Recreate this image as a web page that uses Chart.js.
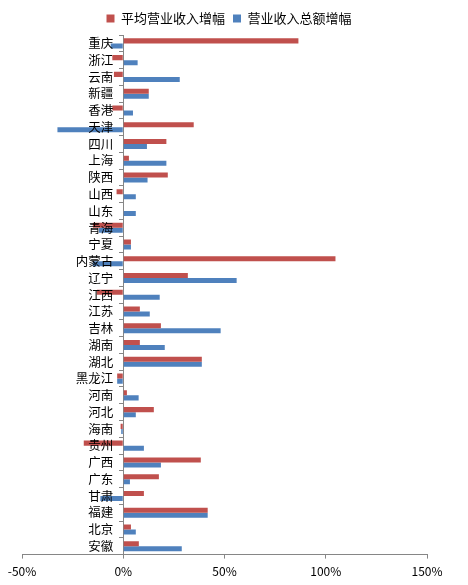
<!DOCTYPE html>
<html>
<head>
<meta charset="utf-8">
<script src="https://cdn.jsdelivr.net/npm/chart.js@4.4.0/dist/chart.umd.min.js"></script>
<style>
  html, body { margin: 0; padding: 0; background: #fff; }
</style>
</head>
<body>
<canvas id="chart" width="468" height="585"></canvas>
<script>
// provinces, top to bottom as in the picture
const categories = ['重庆', '浙江', '云南', '新疆', '香港', '天津', '四川', '上海', '陕西', '山西',
  '山东', '青海', '宁夏', '内蒙古', '辽宁', '江西', '江苏', '吉林', '湖南', '湖北',
  '黑龙江', '河南', '河北', '海南', '贵州', '广西', '广东', '甘肃', '福建', '北京', '安徽']

// 平均营业收入增幅 (%)
const avgGrowth = [86.5, -5.4, -4.6, 12.6, -5.4, 34.8, 21.3, 2.8, 22.0, -3.3,
  0, -15, 3.8, 104.8, 31.9, -13, 8.2, 18.6, 8.2, 38.8,
  -3, 1.8, 15.1, -1.3, -19.5, 38.3, 17.6, 10.2, 41.7, 3.8, 7.7]

// 营业收入总额增幅 (%)
const totalGrowth = [-6.2, 7.1, 27.9, 12.6, 4.8, -32.5, 11.7, 21.3, 12.0, 6.2,
  6.2, -12, 3.8, -15, 56.0, 18.0, 13.1, 48.1, 20.5, 38.8,
  -3, 7.6, 6.2, -1.0, 10.2, 18.6, 3.3, -11.3, 41.7, 6.2, 28.9]

const seriesNames = ['平均营业收入增幅', '营业收入总额增幅']
const xMin = -50
const xMax = 150
const xStep = 50

const font = '"Noto Sans CJK SC", "Noto Sans", sans-serif'
const axisGrey = '#868686'

// category names sit just left of the 0% line, like Excel does it
const zeroLabels = {
  id: 'zeroLabels',
  afterDatasetsDraw(chart) {
    const { ctx } = chart
    const x = chart.scales.x.getPixelForValue(0) - 10
    const yScale = chart.scales.y
    ctx.save()
    ctx.font = '12.5px ' + font
    ctx.fillStyle = '#000'
    ctx.textAlign = 'right'
    ctx.textBaseline = 'middle'
    chart.data.labels.forEach((label, i) => {
      ctx.fillText(label, x, yScale.getPixelForValue(i))
    })
    ctx.restore()
  },
}

new Chart(document.getElementById('chart'), {
  type: 'bar',
  data: {
    labels: categories,
    datasets: [
      {
        label: seriesNames[0],
        data: avgGrowth,
        backgroundColor: '#C0504D',
        categoryPercentage: 0.6,
        barPercentage: 1.0,
      },
      {
        label: seriesNames[1],
        data: totalGrowth,
        backgroundColor: '#4F81BD',
        categoryPercentage: 0.6,
        barPercentage: 1.0,
      },
    ],
  },
  plugins: [zeroLabels],
  options: {
    indexAxis: 'y',
    responsive: false,
    animation: false,
    layout: { padding: { left: 0, right: 10, top: 4, bottom: 0 } },
    plugins: {
      tooltip: { enabled: false },
      legend: {
        position: 'top',
        labels: {
          boxWidth: 8,
          boxHeight: 8,
          padding: 8,
          color: '#000',
          font: { family: font, size: 13 },
        },
      },
    },
    scales: {
      x: {
        min: xMin,
        max: xMax,
        afterFit(scale) {
          scale.paddingLeft = 22
          scale.paddingRight = 41
        },
        ticks: {
          stepSize: xStep,
          color: '#000',
          padding: 6,
          font: { family: font, size: 12 },
          callback: (v) => v + '%',
        },
        grid: { drawOnChartArea: false, tickLength: 4, color: axisGrey },
        border: { color: axisGrey },
      },
      y: {
        position: { x: 0 },
        ticks: { display: false },
        grid: { offset: true, drawOnChartArea: false, tickLength: 4, color: axisGrey },
        border: { color: axisGrey },
      },
    },
  },
})
</script>
</body>
</html>
